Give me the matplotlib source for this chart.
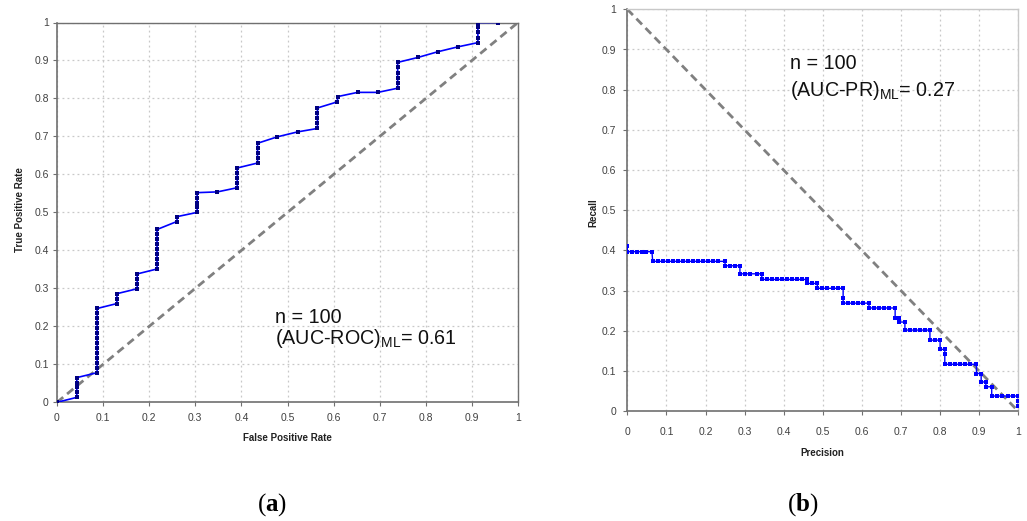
import matplotlib
matplotlib.use('Agg')
import matplotlib.pyplot as plt

plt.rcParams['font.family'] = ['Liberation Sans', 'DejaVu Sans']
plt.rcParams['mathtext.fontset'] = 'custom'
plt.rcParams['mathtext.rm'] = 'Liberation Sans'
plt.rcParams['mathtext.bf'] = 'Liberation Serif:bold'
plt.rcParams['mathtext.default'] = 'regular'

# ---------------- data ----------------
tick_values = [0.0, 0.1, 0.2, 0.3, 0.4, 0.5, 0.6, 0.7, 0.8, 0.9, 1.0]
tick_labels = ['0', '0.1', '0.2', '0.3', '0.4', '0.5', '0.6', '0.7', '0.8', '0.9', '1']

# ROC curve (panel a)
roc_fpr = [0.0,
           0.043, 0.043, 0.043, 0.043, 0.043,
           0.087, 0.087, 0.087, 0.087, 0.087, 0.087, 0.087,
           0.087, 0.087, 0.087, 0.087, 0.087, 0.087, 0.087,
           0.130, 0.130, 0.130,
           0.174, 0.174, 0.174, 0.174,
           0.217, 0.217, 0.217, 0.217, 0.217, 0.217, 0.217, 0.217, 0.217,
           0.260, 0.261,
           0.304, 0.304, 0.304, 0.304, 0.304,
           0.348,
           0.391, 0.391, 0.391, 0.391, 0.391,
           0.435, 0.435, 0.435, 0.435, 0.435,
           0.478, 0.522,
           0.565, 0.565, 0.565, 0.565, 0.565,
           0.608, 0.609,
           0.652, 0.696,
           0.739, 0.739, 0.739, 0.739, 0.739, 0.739,
           0.783, 0.826, 0.870,
           0.913, 0.913, 0.913, 0.913, 0.913,
           0.957]
roc_tpr = [0.0,
           0.013, 0.026, 0.039, 0.052, 0.065,
           0.078, 0.091, 0.104, 0.117, 0.130, 0.143, 0.156,
           0.169, 0.182, 0.195, 0.208, 0.221, 0.234, 0.247,
           0.260, 0.273, 0.286,
           0.299, 0.312, 0.325, 0.338,
           0.351, 0.364, 0.377, 0.390, 0.403, 0.416, 0.429, 0.442, 0.455,
           0.476, 0.489,
           0.500, 0.513, 0.526, 0.539, 0.552,
           0.554,
           0.565, 0.578, 0.591, 0.604, 0.617,
           0.630, 0.643, 0.656, 0.669, 0.682,
           0.699, 0.712,
           0.721, 0.735, 0.748, 0.762, 0.775,
           0.791, 0.805,
           0.816, 0.816,
           0.827, 0.841, 0.855, 0.868, 0.882, 0.895,
           0.908, 0.923, 0.936,
           0.947, 0.960, 0.974, 0.987, 1.000,
           1.000]

# PR curve (panel b)
pr_precision = [0.0,
                0.0, 0.012, 0.024, 0.037, 0.049, 0.063,
                0.065, 0.078, 0.091, 0.104, 0.117, 0.129, 0.142, 0.155,
                0.168, 0.181, 0.194, 0.207, 0.220, 0.233, 0.250,
                0.250, 0.263, 0.276, 0.288,
                0.288, 0.301, 0.314, 0.331, 0.344,
                0.344, 0.357, 0.370, 0.383, 0.396, 0.409, 0.421, 0.434, 0.447, 0.459,
                0.459, 0.472, 0.486,
                0.486, 0.499, 0.512, 0.527, 0.540, 0.552,
                0.552,
                0.552, 0.565, 0.578, 0.591, 0.604, 0.618,
                0.618, 0.631, 0.644, 0.657, 0.670, 0.685,
                0.685, 0.696,
                0.696, 0.710,
                0.710, 0.723, 0.736, 0.749, 0.762, 0.774,
                0.774, 0.787, 0.800,
                0.800, 0.812,
                0.812,
                0.812, 0.825, 0.838, 0.851, 0.864, 0.876, 0.893,
                0.893, 0.905,
                0.905, 0.917,
                0.917, 0.932,
                0.932, 0.945, 0.959, 0.973, 0.987, 1.000,
                1.000, 1.000]
pr_recall = [0.410,
             0.397, 0.397, 0.397, 0.397, 0.397, 0.397,
             0.373, 0.373, 0.373, 0.373, 0.373, 0.373, 0.373, 0.373,
             0.373, 0.373, 0.373, 0.373, 0.373, 0.373, 0.373,
             0.362, 0.362, 0.362, 0.362,
             0.342, 0.342, 0.342, 0.342, 0.342,
             0.328, 0.328, 0.328, 0.328, 0.328, 0.328, 0.328, 0.328, 0.328, 0.328,
             0.318, 0.318, 0.318,
             0.306, 0.306, 0.306, 0.306, 0.306, 0.306,
             0.283,
             0.269, 0.269, 0.269, 0.269, 0.269, 0.269,
             0.257, 0.257, 0.257, 0.257, 0.257, 0.257,
             0.233, 0.233,
             0.222, 0.222,
             0.202, 0.202, 0.202, 0.202, 0.202, 0.202,
             0.177, 0.177, 0.177,
             0.154, 0.154,
             0.142,
             0.117, 0.117, 0.117, 0.117, 0.117, 0.117, 0.117,
             0.094, 0.094,
             0.073, 0.073,
             0.061, 0.061,
             0.038, 0.038, 0.038, 0.038, 0.038, 0.038,
             0.025, 0.013]

roc_ref_x = [0.0, 1.0]
roc_ref_y = [0.0, 1.0]
pr_ref_x = [0.0, 1.0]
pr_ref_y = [1.0, 0.0]

roc_text = ['n = 100', r'(AUC-ROC)$_{ML}$= 0.61']
pr_text = ['n = 100', r'(AUC-PR)$_{ML}$= 0.27']

# ---------------- figure ----------------
W, H = 1027, 521
fig = plt.figure(figsize=(W / 100, H / 100), dpi=100)
fig.patch.set_facecolor('white')

ax1 = fig.add_axes([57 / W, 1 - 402.3 / H, 461 / W, 379.8 / H])
ax2 = fig.add_axes([627.3 / W, 1 - 411.3 / H, 391 / W, 402 / H])

tick_color = '#404040'
grid_color = '#c8c8c8'


def style_axes(ax, frame_color, side_color, pad_x, pad_y):
    ax.set_xlim(0, 1)
    ax.set_ylim(0, 1)
    ax.set_xticks(tick_values)
    ax.set_xticklabels(tick_labels)
    ax.set_yticks(tick_values)
    ax.set_yticklabels(tick_labels)
    ax.grid(True, linestyle=(0, (1.5, 2.5)), color=grid_color, linewidth=0.9)
    ax.set_axisbelow(True)
    ax.tick_params(axis='both', which='both', direction='out', length=3,
                   width=0.8, colors=frame_color, labelcolor=tick_color,
                   labelsize=7.5)
    ax.tick_params(axis='x', pad=pad_x)
    ax.tick_params(axis='y', pad=pad_y)
    for s in ['left', 'bottom']:
        ax.spines[s].set_color(frame_color)
        ax.spines[s].set_linewidth(1.2)
    for s in ['top', 'right']:
        ax.spines[s].set_color(side_color)
        ax.spines[s].set_linewidth(1.0)


style_axes(ax1, '#707070', '#707070', 5, 3)
style_axes(ax2, '#707070', '#c8c8c8', 8, 5)

dash_style = dict(color='#808080', linewidth=2.0, linestyle=(0, (2.9, 1.8)))

# Panel a
ax1.plot(roc_ref_x, roc_ref_y, **dash_style, zorder=2)
ax1.plot(roc_fpr, roc_tpr, color='#0000ff', linewidth=1.2, zorder=3)
ax1.plot(roc_fpr, roc_tpr, linestyle='none', marker='s', markersize=2.5,
         markeredgewidth=0, color='#000080', zorder=4)
ax1.text(0.473, 0.222, roc_text[0], fontsize=14.2, va='center', ha='left',
         color='#111111')
ax1.text(0.473, 0.167, roc_text[1], fontsize=14.2, va='center', ha='left',
         color='#111111')

# Panel b
ax2.plot(pr_ref_x, pr_ref_y, **dash_style, zorder=2)
ax2.plot(pr_precision, pr_recall, color='#0000ff', linewidth=1.0, zorder=3)
ax2.plot(pr_precision, pr_recall, linestyle='none', marker='s', markersize=2.5,
         markeredgewidth=0, color='#0000ff', zorder=4)
ax2.text(0.416, 0.866, pr_text[0], fontsize=14.2, va='center', ha='left',
         color='#111111')
ax2.text(0.416, 0.797, pr_text[1], fontsize=14.2, va='center', ha='left',
         color='#111111')

# axis labels
lab = dict(fontsize=7, fontweight='bold', color='#222222', ha='center', va='center')
fig.text(287 / W, 1 - 438 / H, 'False Positive Rate', **lab)
fig.text(20 / W, 1 - 210 / H, 'True Positive Rate', rotation=90, **lab)
fig.text(822 / W, 1 - 453 / H, 'Precision', **lab)
fig.text(593 / W, 1 - 213 / H, 'Recall', rotation=90, **lab)

# panel captions
cap = dict(fontsize=18, family=['Liberation Serif', 'DejaVu Serif'],
           ha='center', va='center', color='black')
fig.text(272 / W, 1 - 505 / H, r'($\mathbf{a}$)', **cap)
fig.text(803 / W, 1 - 505 / H, r'($\mathbf{b}$)', **cap)

fig.savefig('out.png', dpi=100, facecolor='white')
